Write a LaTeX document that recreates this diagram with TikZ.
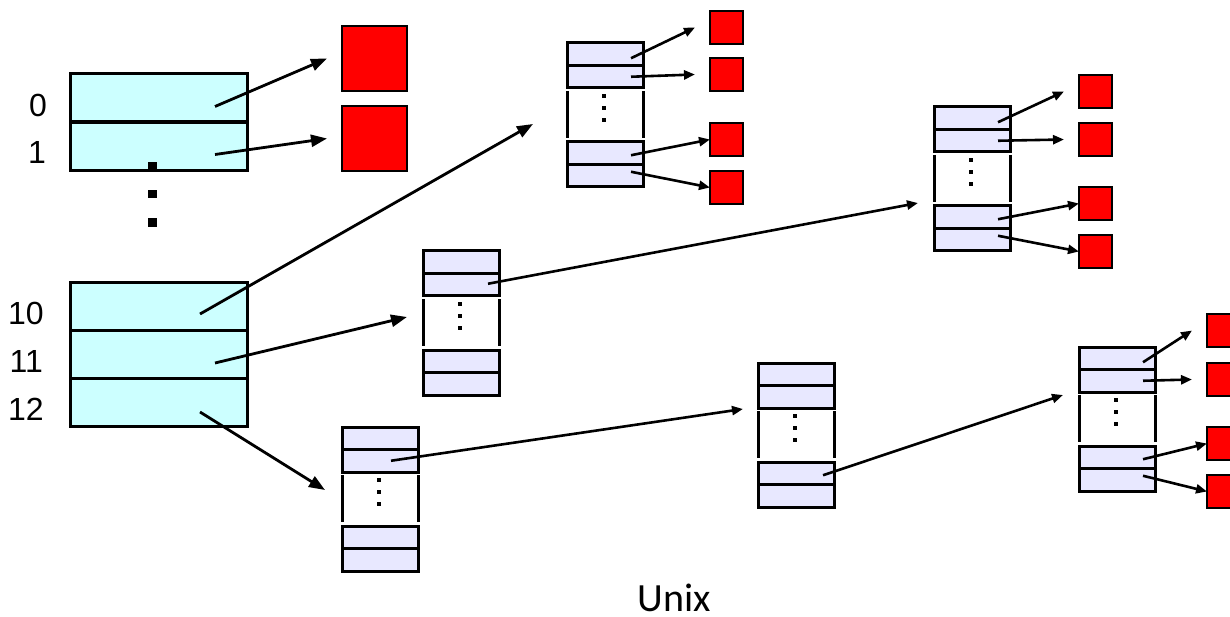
\documentclass[tikz,border=0pt]{standalone}
\usepackage{fontspec}
\setmainfont{Liberation Sans}
\newfontfamily\captionfont{Carlito}
\usetikzlibrary{arrows.meta,calc}

\definecolor{tabcyan}{HTML}{CCFFFF}
\definecolor{tablav}{HTML}{E8E8FF}
\definecolor{blkred}{HTML}{FF0000}

\tikzset{
  wide/.style={draw, line width=3pt, fill=tabcyan, minimum width=177pt,
    minimum height=48pt, inner sep=0pt, outer sep=0pt, anchor=north west},
  cell/.style={draw, line width=3pt, fill=tablav, minimum width=76pt,
    minimum height=22.5pt, inner sep=0pt, outer sep=0pt, anchor=north west},
  bigblk/.style={draw, line width=2.8pt, fill=blkred, minimum size=65pt,
    inner sep=0pt, outer sep=0pt, anchor=north west},
  blk/.style={draw, line width=2.8pt, fill=blkred, minimum size=33pt,
    inner sep=0pt, outer sep=0pt, anchor=north west},
  side/.style={line width=3pt},
  ptr/.style={line width=2.6pt, -{Triangle[length=11pt,width=9pt]}},
  bigptr/.style={line width=2.8pt, -{Triangle[length=16pt,width=12pt]}},
  idx/.style={anchor=east, inner sep=0pt, font=\fontsize{32pt}{38pt}\selectfont},
}

% An indirect block: two cells, an open middle part with dots, two cells.
% #1 name, #2 left x, #3 top y
\newcommand\ptrtable[3]{%
  \node[cell] (#1a) at (#2,#3) {};
  \node[cell] (#1b) at (#2,#3+22.5) {};
  \node[cell] (#1c) at (#2,#3+99) {};
  \node[cell] (#1d) at (#2,#3+121.5) {};
  \draw[cell,fill=none] (#1a.north west) rectangle (#1b.south east);
  \draw[cell,fill=none] (#1c.north west) rectangle (#1d.south east);
  \draw[side] (#2,#3+48) -- (#2,#3+95) (#2+76,#3+48) -- (#2+76,#3+95);
  \foreach \yy in {51,63,75} \fill (#2+35,#3+\yy) rectangle +(3.8,3.8);
}

\begin{document}
\begin{tikzpicture}[x=1pt,y=-1pt]
\useasboundingbox (0,0) rectangle (1230,617);

% inode address table
\node[wide] (bt0) at (70,74) {};
\node[wide] (bt1) at (70,122.5) {};
\node[wide] (bt10) at (70,283) {};
\node[wide] (bt11) at (70,330.5) {};
\node[wide] (bt12) at (70,378.5) {};
\draw[wide,fill=none] (bt0.north west) rectangle (bt1.south east);
\draw[wide,fill=none] (bt10.north west) rectangle (bt12.south east);
\fill (148,162) rectangle (157,170);
\fill (148,190) rectangle (157,198);
\fill (148,218) rectangle (157,227);

\node[idx] (l0) at (47,105) {0};
\node[idx] (l1) at (46,152) {1};
\node[idx] (l10) at (44,313) {10};
\node[idx] (l11) at (43,361) {11};
\node[idx] (l12) at (44,409) {12};

% direct data blocks
\node[bigblk] (D0) at (342,26) {};
\node[bigblk] (D1) at (342,106) {};

% indirect blocks
\ptrtable{T1}{567}{43}
\ptrtable{T2}{934}{107}
\ptrtable{T3}{1079}{347}
\ptrtable{T4}{423}{251}
\ptrtable{T5}{758}{363}
\ptrtable{T6}{342}{427}

% data blocks
\node[blk] (R1a) at (710,11) {};
\node[blk] (R1b) at (710,58) {};
\node[blk] (R1c) at (710,123) {};
\node[blk] (R1d) at (710,171) {};
\node[blk] (R2a) at (1079,75) {};
\node[blk] (R2b) at (1079,123) {};
\node[blk] (R2c) at (1079,187) {};
\node[blk] (R2d) at (1079,235) {};
\node[blk] (R3a) at (1207,314) {};
\node[blk] (R3b) at (1207,363) {};
\node[blk] (R3c) at (1207,427) {};
\node[blk] (R3d) at (1207,475) {};

% free ends of the block pointers
\coordinate (e10) at (533,124);
\coordinate (e11) at (407,317);
\coordinate (e12) at (325,490);
\coordinate (e4) at (918,203);
\coordinate (e6) at (743,409);
\coordinate (e5) at (1063,395);

% pointers from the address table
\draw[bigptr] ([xshift=56.5pt,yshift=-8.5pt]bt0.center) -- ([xshift=-15pt]D0.west);
\draw[bigptr] ([xshift=56.5pt,yshift=-8pt]bt1.center) -- ([xshift=-15pt]D1.west);
\draw[bigptr] ([xshift=41.5pt,yshift=-7pt]bt10.center) -- (e10);
\draw[bigptr] ([xshift=56.5pt,yshift=-8.5pt]bt11.center) -- (e11);
\draw[bigptr] ([xshift=41.5pt,yshift=-9.5pt]bt12.center) -- (e12);

% pointers between indirect blocks
\draw[ptr] ([xshift=27pt,yshift=1pt]T4b.center) -- (e4);
\draw[ptr] ([xshift=11pt]T6b.center) -- (e6);
\draw[ptr] ([xshift=27pt,yshift=-2pt]T5c.center) -- (e5);

% pointers to data blocks
\foreach \t in {1,2,3}{
  \draw[ptr] ([xshift=26pt,yshift=-4pt]T\t a.center) -- ([xshift=-15pt]R\t a.west);
  \draw[ptr] ([xshift=26pt]T\t b.center) -- ([xshift=-15pt]R\t b.west);
  \draw[ptr] ([xshift=26pt,yshift=-2pt]T\t c.center) -- (R\t c.west);
  \draw[ptr] ([xshift=26pt,yshift=4pt]T\t d.center) -- (R\t d.west);
}

\node[font=\captionfont\fontsize{40pt}{48pt}\selectfont, anchor=base, inner sep=0pt] (cap) at (674,611) {Unix};
\end{tikzpicture}
\end{document}
